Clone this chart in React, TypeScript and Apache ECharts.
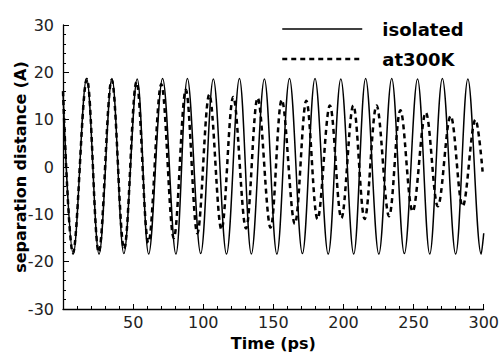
import React, { useEffect, useRef } from "react";
import * as echarts from "echarts";

const seriesNames = ["isolated", "at300K"];

// [time (ps), separation distance (A)] at turning points
const isolatedData: [number, number][] = [
  [0, 16.0], [7.3, -18.4], [16.8, 18.7], [25.7, -18.4], [34.9, 18.7],
  [43.4, -18.3], [52.9, 18.6], [61.1, -18.4], [71.0, 18.7], [80.5, -18.4],
  [88.7, 18.7], [98.2, -18.3], [107.2, 18.6], [116.6, -18.4], [125.8, 18.7],
  [134.3, -18.4], [143.6, 18.6], [152.5, -18.4], [161.5, 18.7], [170.7, -18.3],
  [179.7, 18.7], [189.1, -18.4], [198.1, 18.6], [207.3, -18.4], [215.8, 18.7],
  [225.2, -18.4], [234.4, 18.7], [243.4, -18.3], [252.8, 18.6], [261.5, -18.4],
  [270.5, 18.7], [280.0, -18.4], [288.7, 18.6], [298.2, -18.4], [300, -14.0],
];

const at300KData: [number, number][] = [
  [0, 16.0], [7.1, -18.2], [17.0, 18.6], [25.5, -18.0], [34.7, 18.4],
  [43.6, -17.3], [52.4, 18.0], [60.9, -16.0], [70.1, 17.5], [79.0, -15.0],
  [87.6, 16.3], [95.8, -14.0], [104.3, 15.3], [113.0, -13.2], [121.4, 14.8],
  [130.5, -13.0], [138.8, 14.6], [148.0, -12.8], [156.0, 14.2], [165.3, -12.0],
  [173.5, 14.0], [181.5, -11.0], [190.3, 13.0], [198.5, -10.8], [207.0, 13.0],
  [215.1, -11.0], [223.6, 13.0], [232.5, -10.4], [240.6, 12.0], [249.3, -9.4],
  [258.7, 11.5], [267.3, -8.3], [276.4, 10.8], [285.0, -8.3], [294.1, 10.0],
  [299.2, -1.0],
];

const xMin = 0;
const xMax = 300;
const xStep = 50;
const yMin = -30;
const yMax = 30;
const yStep = 10;

const FONT = "DejaVu Sans";

export default function App() {
  const ref = useRef<HTMLDivElement>(null);

  useEffect(() => {
    document.body.style.margin = "0";
    const chart = echarts.init(ref.current!, null, { renderer: "svg" });
    chart.setOption({
      animation: false,
      backgroundColor: "#ffffff",
      grid: { left: 63, right: 16, top: 25, bottom: 41, containLabel: false },
      legend: {
        orient: "vertical",
        left: 281,
        top: 20,
        padding: 0,
        itemGap: 12,
        itemWidth: 80,
        itemHeight: 16,
        selectedMode: false,
        itemStyle: { opacity: 0 },
        textStyle: {
          fontFamily: FONT,
          fontSize: 18,
          fontWeight: "bold",
          color: "#000",
          padding: [0, 0, 0, 15],
        },
        data: [
          { name: seriesNames[0], lineStyle: { width: 1.5 } },
          { name: seriesNames[1], lineStyle: { width: 2.5 } },
        ],
      },
      xAxis: {
        type: "value",
        min: xMin,
        max: xMax,
        interval: xStep,
        name: "Time (ps)",
        nameLocation: "middle",
        nameGap: 26,
        nameMoveOverlap: false,
        nameTextStyle: { fontFamily: FONT, fontSize: 16, fontWeight: "bold", color: "#000" },
        axisLine: { onZero: false, lineStyle: { color: "#000", width: 1.3 } },
        axisTick: { inside: true, length: 5, lineStyle: { color: "#000", width: 1 } },
        minorTick: { show: true, splitNumber: 5, length: 3, lineStyle: { color: "#000", width: 1 } },
        axisLabel: {
          margin: 5,
          fontFamily: FONT,
          fontSize: 16,
          color: "#222",
          formatter: (v: number) => (v === 0 ? "" : String(v)),
        },
        splitLine: { show: false },
        minorSplitLine: { show: false },
      },
      yAxis: {
        type: "value",
        min: yMin,
        max: yMax,
        interval: yStep,
        name: "separation distance (A)",
        nameLocation: "middle",
        nameGap: 35,
        nameMoveOverlap: false,
        nameTextStyle: { fontFamily: FONT, fontSize: 16, fontWeight: "bold", color: "#000" },
        axisLine: { onZero: false, lineStyle: { color: "#000", width: 1.3 } },
        axisTick: { inside: true, length: 6, lineStyle: { color: "#000", width: 1 } },
        minorTick: { show: true, splitNumber: 5, length: 3, lineStyle: { color: "#000", width: 1 } },
        axisLabel: { margin: 9, fontFamily: FONT, fontSize: 16, color: "#222" },
        splitLine: { show: false },
        minorSplitLine: { show: false },
      },
      series: [
        {
          name: seriesNames[0],
          type: "line",
          data: isolatedData,
          showSymbol: false,
          symbol: "none",
          smooth: 0.36,
          lineStyle: { color: "#000", width: 1.5, type: "solid" },
          itemStyle: { color: "#000" },
          z: 2,
        },
        {
          name: seriesNames[1],
          type: "line",
          data: at300KData,
          showSymbol: false,
          symbol: "none",
          smooth: 0.36,
          lineStyle: { color: "#000", width: 2.5, type: [5, 4] },
          itemStyle: { color: "#000" },
          z: 3,
        },
      ],
    });
    return () => chart.dispose();
  }, []);

  return <div ref={ref} style={{ width: 502, height: 356 }} />;
}
